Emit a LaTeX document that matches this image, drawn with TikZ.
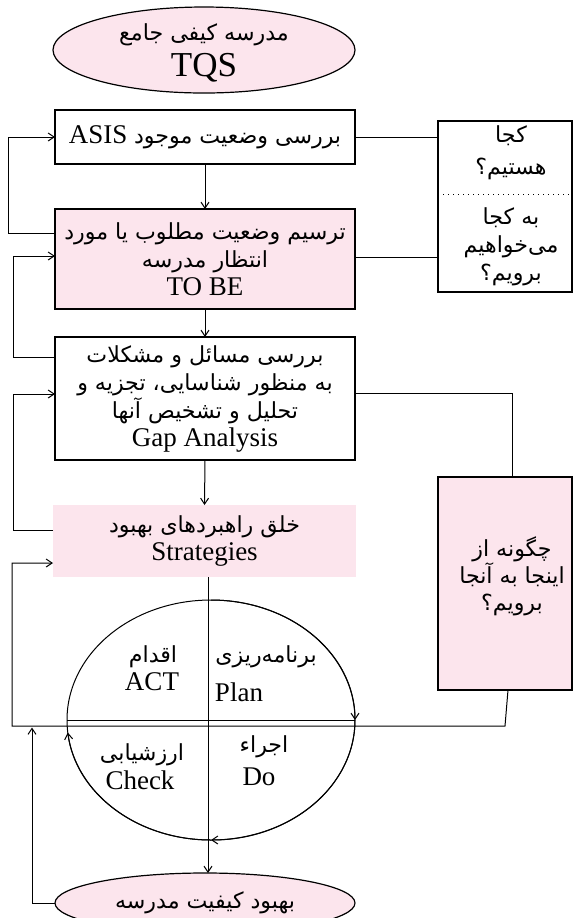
\documentclass[tikz,border=0pt]{standalone}
\usepackage{fontspec}
\setmainfont{Liberation Serif}
\newfontfamily\farsi[Script=Arabic,Scale=0.82]{DejaVu Sans}
\TeXXeTstate=1
\usetikzlibrary{shapes.geometric,arrows.meta}
\definecolor{pinkfill}{RGB}{252,229,237}
\newcommand\fa[1]{{\farsi\beginR #1\endR}}
\begin{document}
\begin{tikzpicture}[x=0.5pt,y=-0.5pt,
  every node/.style={inner sep=0pt, outer sep=0pt},
  arr/.style={-{Straight Barb[length=3pt,width=4pt]}, line width=0.5pt},
  ln/.style={line width=0.5pt},
  txt/.style={align=center, font=\fontsize{13.5}{14}\selectfont},
  rbox/.style={draw, line width=0.6pt, rectangle, minimum width=150pt, txt},
  qbox/.style={draw, line width=0.6pt, rectangle, minimum width=67pt},
  ell/.style={draw, ellipse, line width=0.6pt, fill=pinkfill}
]
\clip (0,0) rectangle (574,918);
% top ellipse
\node[ell, minimum width=151pt, minimum height=43pt] (tqs) at (204,50) {};
\node[txt] (tqst) at (204,53) {\fa{مدرسه کیفی جامع}\\[3pt]{\fontsize{17.5}{17}\selectfont TQS}};
% main boxes
\node[rbox, minimum height=27pt] (asis) at (205,137) {ASIS \fa{بررسی وضعیت موجود}};
\node[rbox, fill=pinkfill, minimum height=50pt] (tobe) at (205,259) {\fa{ترسیم وضعیت مطلوب یا مورد}\\\fa{انتظار مدرسه}\\TO BE};
\node[rbox, minimum height=61.5pt] (gap) at (205,398.5) {\fa{بررسی مسائل و مشکلات}\\\fa{به منظور شناسایی، تجزیه و}\\\fa{تحلیل و تشخیص آنها}\\Gap Analysis};
\node[rectangle, fill=pinkfill, minimum width=151.5pt, minimum height=36pt, txt] (strat) at (204.5,541) {\fa{خلق راهبردهای بهبود}\\Strategies};
% right boxes
\node[qbox, minimum height=85.5pt] (q1) at (505,206.5) {};
\node[txt, font=\fontsize{13.5}{16}\selectfont] (q1a) at (511,152.5) {\fa{کجا}\\\fa{هستیم؟}};
\node[txt] (q1b) at (511,247) {\fa{به کجا}\\\fa{می‌خواهیم}\\\fa{برویم؟}};
\draw[dotted, line width=0.5pt] ([yshift=6.25pt]q1.west) -- ([yshift=6.25pt]q1.east);
\node[qbox, fill=pinkfill, minimum height=106.5pt] (q2) at (505,583.5) {};
\node[txt, font=\fontsize{13.5}{13.5}\selectfont] (q2t) at (512,576) {\fa{چگونه از}\\\fa{اینجا به آنجا}\\\fa{برویم؟}};
% bottom ellipse
\node[ell, minimum width=150pt, minimum height=30pt] (bot) at (205,903) {};
\node[txt] (bott) at (205,903) {\fa{بهبود کیفیت مدرسه}};
% PDCA cycle
\coordinate (pc) at (211,720);
\coordinate (ptop) at (211,600);
\coordinate (pbot) at (211,840);
\coordinate (pl) at (67,720);
\coordinate (pr) at (355,720);
\draw[ln] (pc) ellipse[x radius=144, y radius=120];
\draw[arr] (ptop) arc[start angle=-90, end angle=0, x radius=144, y radius=120];
\draw[arr] (pr) arc[start angle=0, end angle=90, x radius=144, y radius=120];
\draw[arr] (pbot) arc[start angle=90, end angle=174, x radius=144, y radius=120];
\draw[ln] (pl) -- (pr);
\node[txt] (actfa) at (153,657) {\fa{اقدام}};
\node[txt] (act) at (152,682) {ACT};
\node[txt] (planfa) at (266,657) {\fa{برنامه‌ریزی}};
\node[txt] (plan) at (239,692) {Plan};
\node[txt] (dofa) at (264,747) {\fa{اجراء}};
\node[txt] (do) at (259,777) {Do};
\node[txt] (chkfa) at (142,755) {\fa{ارزشیابی}};
\node[txt] (chk) at (140,780) {Check};
% main flow arrows
\draw[arr] (asis.south) -- (tobe.north);
\draw[arr] (tobe.south) -- (gap.north);
\draw[arr] (gap.south) -- (strat.north);
\coordinate (vx) at (208,0);
\draw[arr] (strat.south -| vx) -- (bot.north -| vx);
% left feedback
\draw[arr] ([yshift=13pt]tobe.west) -- ++(-23.5pt,0) |- (asis.west);
\draw[arr] ([yshift=20.75pt]gap.west) -- ++(-21pt,0) |- ([yshift=1.5pt]tobe.west);
\draw[arr] ([yshift=5.5pt]strat.west) -- ++(-20pt,0) |- ([yshift=2.25pt]gap.west);
% right connections
\draw[ln] (asis.east) -- (asis.east -| q1.west);
\draw[ln] ([yshift=1pt]tobe.east) -- ([yshift=1pt]tobe.east -| q1.west);
\draw[ln] ([yshift=2.75pt]gap.east) -| ([xshift=3.5pt]q2.north);
% big loop
\coordinate (lr) at (505,726);
\coordinate (ll) at (12,726);
\draw[arr] ([xshift=1.5pt]q2.south) -- (lr) -- (ll) |- ([yshift=-11pt]strat.west);
\coordinate (tipA) at (32,727.5);
\draw[arr] (bot.west) -| (tipA);
\end{tikzpicture}
\end{document}
